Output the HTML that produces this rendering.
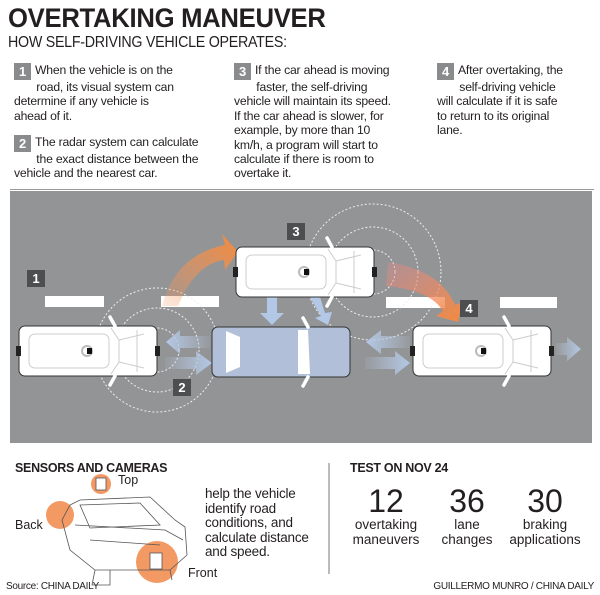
<!DOCTYPE html>
<html><head><meta charset="utf-8"><style>
*{margin:0;padding:0;box-sizing:border-box}
body{width:600px;height:595px;background:#fff;position:relative;overflow:hidden;font-family:"Liberation Sans",sans-serif;color:#231f20}
.a{position:absolute;white-space:nowrap}
.t{font-size:12.2px;line-height:14.4px;letter-spacing:-0.2px}
.nb{display:inline-block;width:17px;height:17px;background:#8a8b8d;color:#fff;font-weight:bold;font-size:13px;text-align:center;line-height:17px;vertical-align:top;margin-right:4px}
</style></head><body>
<div class="a" style="left:8px;top:3px;font-size:27px;font-weight:bold;letter-spacing:-0.3px;transform:scaleX(0.95);transform-origin:left">OVERTAKING MANEUVER</div>
<div class="a" style="left:8px;top:34px;font-size:15.5px;letter-spacing:-0.3px;transform:scaleX(0.92);transform-origin:left">HOW SELF-DRIVING VEHICLE OPERATES:</div>

<div class="a t" style="left:14px;top:63px"><span class="nb" style="margin-top:0">1</span>When the vehicle is on the<br>&nbsp;&nbsp;&nbsp;&nbsp;&nbsp;&nbsp;&nbsp;road, its visual system can<br>determine if any vehicle is<br>ahead of it.</div>
<div class="a t" style="left:14px;top:135px"><span class="nb">2</span>The radar system can calculate<br>&nbsp;&nbsp;&nbsp;&nbsp;&nbsp;&nbsp;&nbsp;the exact distance between the<br>vehicle and the nearest car.</div>
<div class="a t" style="left:234px;top:63px"><span class="nb">3</span>If the car ahead is moving<br>&nbsp;&nbsp;&nbsp;&nbsp;&nbsp;&nbsp;&nbsp;faster, the self-driving<br>vehicle will maintain its speed.<br>If the car ahead is slower, for<br>example, by more than 10<br>km/h, a program will start to<br>calculate if there is room to<br>overtake it.</div>
<div class="a t" style="left:437px;top:63px"><span class="nb">4</span>After overtaking, the<br>&nbsp;&nbsp;&nbsp;&nbsp;&nbsp;&nbsp;&nbsp;self-driving vehicle<br>will calculate if it is safe<br>to return to its original<br>lane.</div>
<div class="a" style="left:10px;top:189px;width:584px;height:1px;background:#999"></div>

<svg class="a" style="left:0;top:0" width="600" height="595">
<defs>
<linearGradient id="og" x1="0" y1="1" x2="1" y2="0"><stop offset="0" stop-color="#f39a64" stop-opacity="0.2"/><stop offset="1" stop-color="#f58a3c"/></linearGradient>
<linearGradient id="og2" x1="0" y1="0" x2="1" y2="1"><stop offset="0" stop-color="#e88" stop-opacity="0.3"/><stop offset="1" stop-color="#f58a3c"/></linearGradient>
<linearGradient id="bl" x1="0" x2="1"><stop offset="0" stop-color="#b8c9e0" stop-opacity="0.1"/><stop offset="1" stop-color="#b3c8e6"/></linearGradient>
<linearGradient id="blr" x1="1" x2="0"><stop offset="0" stop-color="#b8c9e0" stop-opacity="0.1"/><stop offset="1" stop-color="#b3c8e6"/></linearGradient>
<g id="car">
<rect x="0" y="0" width="138" height="50" rx="6" fill="#fff" stroke="#333" stroke-width="1"/>
<rect x="10" y="8" width="80" height="34" rx="6" fill="none" stroke="#ccc"/>
<path d="M92 2 L100 14 L100 36 L92 48 M100 14 L125 8 M100 36 L125 42 M118 4 L118 46" fill="none" stroke="#ccc"/>
<rect x="-3" y="20" width="5" height="10" fill="#222"/><rect x="136" y="20" width="5" height="10" fill="#222"/>
<circle cx="68" cy="25" r="5" fill="none" stroke="#bbb" stroke-width="2"/><rect x="68" y="22" width="5" height="6" fill="#111"/>
<path d="M96 0 L91 -9 M96 50 L91 59" stroke="#fff" stroke-width="3.5" stroke-linecap="round"/>
</g>
</defs>
<rect x="10" y="191" width="582" height="252" fill="#939496"/>
<g fill="#fff"><rect x="45" y="296" width="59" height="11"/><rect x="161" y="296" width="58" height="11"/><rect x="386" y="297" width="59" height="11"/><rect x="500" y="297" width="57" height="11"/></g>
<g fill="none" stroke="#eee" stroke-width="1" stroke-dasharray="2,2">
<circle cx="157" cy="350" r="62"/><circle cx="157" cy="350" r="42"/><circle cx="157" cy="350" r="22"/>
<circle cx="373" cy="272" r="68"/><circle cx="373" cy="272" r="45"/><circle cx="373" cy="272" r="22"/>
</g>
<path d="M162 306 Q175 255 225 245 L222 234 L238 252 L225 270 L224 260 Q195 264 178 306 Z" fill="url(#og)"/>
<path d="M388 262 Q440 270 455 305 L462 302 L458 322 L436 316 L443 311 Q430 290 386 286 Z" fill="url(#og2)"/>
<g fill="url(#blr)"><path d="M210 336 L180 336 L180 330 L166 342 L180 354 L180 348 L210 348Z"/><path d="M410 336 L381 336 L381 330 L366 342 L381 354 L381 348 L410 348Z"/></g>
<g fill="url(#bl)"><path d="M165 357 L196 357 L196 351 L212 363 L196 375 L196 369 L165 369Z"/><path d="M365 357 L395 357 L395 351 L410 363 L395 375 L395 369 L365 369Z"/><path d="M556 343 L567 343 L567 337 L581 349 L567 361 L567 355 L556 355Z"/></g>
<path d="M267 297 L277 297 L277 313 L284 313 L272 325 L260 313 L267 313Z" fill="#b3c8e6"/>
<path d="M310 297 L320 297 L325 313 L332 312 L328 325 L315 318 L321 316Z" fill="#b3c8e6"/>
<use href="#car" x="19" y="326"/>
<use href="#car" x="236" y="247"/>
<use href="#car" x="413" y="326"/>
<g transform="translate(212,327)">
<rect x="0" y="0" width="138" height="50" rx="6" fill="#b1c0d8" stroke="#333"/>
<path d="M14 4 L28 10 L28 40 L14 46 Z" fill="#fff"/><path d="M86 3 L96 3 L98 47 L86 47 Z" fill="#fff"/>
<path d="M96 0 L91 -9 M96 50 L91 59" stroke="#fff" stroke-width="3.5" stroke-linecap="round"/>
</g>
<g font-family="Liberation Sans" font-weight="bold" font-size="13" fill="#fff" text-anchor="middle">
<rect x="27" y="270" width="18" height="17" fill="#4d4e50"/><text x="36" y="283">1</text>
<rect x="173" y="379" width="18" height="17" fill="#4d4e50"/><text x="182" y="392">2</text>
<rect x="287" y="223" width="18" height="17" fill="#4d4e50"/><text x="296" y="236">3</text>
<rect x="460" y="300" width="18" height="17" fill="#4d4e50"/><text x="469" y="313">4</text>
</g>
<line x1="329" y1="463" x2="329" y2="574" stroke="#777"/>
<circle cx="60" cy="515" r="14" fill="#f39a64"/>
<circle cx="101" cy="484" r="10" fill="#f39a64"/>
<circle cx="157" cy="562" r="21" fill="#f39a64"/>
<g fill="none" stroke="#555" stroke-width="0.8">
<path d="M70 505 L80 500 L150 497 L175 520 L185 527 L187 555 L170 570 L95 570 L70 550 L62 520 Z"/>
<path d="M80 505 L140 503 L160 525 L90 528 Z M75 525 L165 530 L183 540 M90 540 L160 545 M95 570 L92 585 L110 585 L110 570 M170 570 L172 580"/>
<rect x="96" y="478" width="10" height="12" fill="#fff"/>
<rect x="150" y="553" width="12" height="16" fill="#fff"/>
</g>
</svg>

<div class="a" style="left:15px;top:461px;font-size:12.5px;font-weight:bold;letter-spacing:-0.3px">SENSORS AND CAMERAS</div>
<div class="a" style="left:118px;top:473px;font-size:12.5px">Top</div>
<div class="a" style="left:15px;top:518px;font-size:12.5px">Back</div>
<div class="a" style="left:188px;top:566px;font-size:12.5px">Front</div>
<div class="a" style="left:205px;top:487px;font-size:13.5px;line-height:14.5px;letter-spacing:-0.2px">help the vehicle<br>identify road<br>conditions, and<br>calculate distance<br>and speed.</div>
<div class="a" style="left:6px;top:581px;font-size:10px;letter-spacing:-0.3px">Source: CHINA DAILY</div>
<div class="a" style="left:350px;top:461px;font-size:12.5px;font-weight:bold;letter-spacing:-0.3px">TEST ON NOV 24</div>
<div class="a" style="left:346px;top:484px;width:80px;text-align:center;font-size:32px;line-height:34px">12</div>
<div class="a" style="left:427px;top:484px;width:80px;text-align:center;font-size:32px;line-height:34px">36</div>
<div class="a" style="left:505px;top:484px;width:80px;text-align:center;font-size:32px;line-height:34px">30</div>
<div class="a" style="left:336px;top:518px;width:100px;text-align:center;font-size:13.5px;line-height:14.5px">overtaking<br>maneuvers</div>
<div class="a" style="left:417px;top:518px;width:100px;text-align:center;font-size:13.5px;line-height:14.5px">lane<br>changes</div>
<div class="a" style="left:495px;top:518px;width:100px;text-align:center;font-size:13.5px;line-height:14.5px">braking<br>applications</div>
<div class="a" style="right:6px;top:581px;font-size:10px;letter-spacing:-0.3px">GUILLERMO MUNRO / CHINA DAILY</div>
</body></html>
